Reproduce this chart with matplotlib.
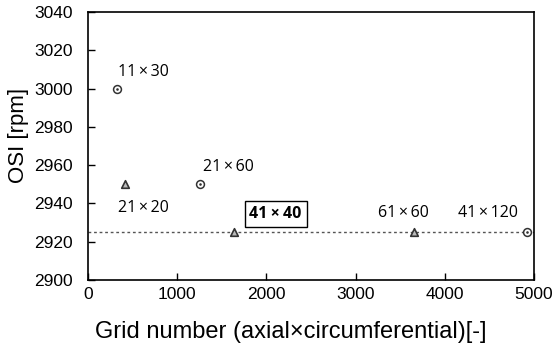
import matplotlib.pyplot as plt

# grid sizes (axial x circumferential) and OSI values
circle_x = [330, 1260, 4920]
circle_y = [3000, 2950, 2925]
tri_x = [420, 1640, 3660]
tri_y = [2950, 2925, 2925]

labels = ["11\u2009\u00d7\u200930", "21\u2009\u00d7\u200920", "21\u2009\u00d7\u200960",
          "41\u2009\u00d7\u200940", "61\u2009\u00d7\u200960", "41\u2009\u00d7\u2009120"]
label_x = [336, 336, 1289, 1810, 3251, 4148]
label_y = [3008.7, 2937.6, 2959, 2934.5, 2935, 2935]
ref_osi = 2925

fig = plt.figure(figsize=(5.58, 3.45), dpi=100)
ax = fig.add_axes([88 / 558, 1 - 280 / 345, 446 / 558, 268 / 345])

ax.axhline(ref_osi, color="#555555", linestyle=(0, (2, 2)), linewidth=1)
ax.scatter(circle_x, circle_y, marker="o", s=32, facecolors="white",
           edgecolors="#333333", linewidths=1.1, zorder=3)
ax.scatter(circle_x, circle_y, marker=".", s=3, color="#333333", zorder=4)
ax.scatter(tri_x, tri_y, marker="^", s=30, facecolors="#bbbbbb",
           edgecolors="#333333", linewidths=1.2, zorder=3)

fam = ["Open Sans", "DejaVu Sans"]
for t, x, y in zip(labels, label_x, label_y):
    if t.startswith("41\u2009\u00d7\u200940"):
        ax.text(x, y, t, ha="left", va="center", fontsize=11.5, fontweight="bold",
                family=fam,
                bbox=dict(boxstyle="square,pad=0.3", facecolor="white",
                          edgecolor="black", linewidth=1))
    else:
        ax.text(x, y, t, ha="left", va="center", fontsize=11.5, family=fam)

ax.set_xlim(0, 5000)
ax.set_ylim(2900, 3040)
ax.set_xticks(range(0, 5001, 1000))
ax.set_yticks(range(2900, 3041, 20))
ax.tick_params(direction="in", length=5, width=1, labelsize=12.5)
ax.tick_params(axis="y", pad=11)
ax.tick_params(axis="x", pad=5)
for lab in ax.get_xticklabels() + ax.get_yticklabels():
    lab.set_family("Liberation Sans")
for sp in ax.spines.values():
    sp.set_linewidth(1.2)

ax.set_xlabel("Grid number (axial\u00d7circumferential)[-]", fontsize=17,
              family="Liberation Sans", va="center")
ax.set_ylabel("OSI [rpm]", fontsize=16, family="Liberation Sans", va="center")
ax.xaxis.set_label_coords(0.455, -0.194)
ax.yaxis.set_label_coords(-0.155, 0.541)

fig.savefig("out.png", dpi=100)
